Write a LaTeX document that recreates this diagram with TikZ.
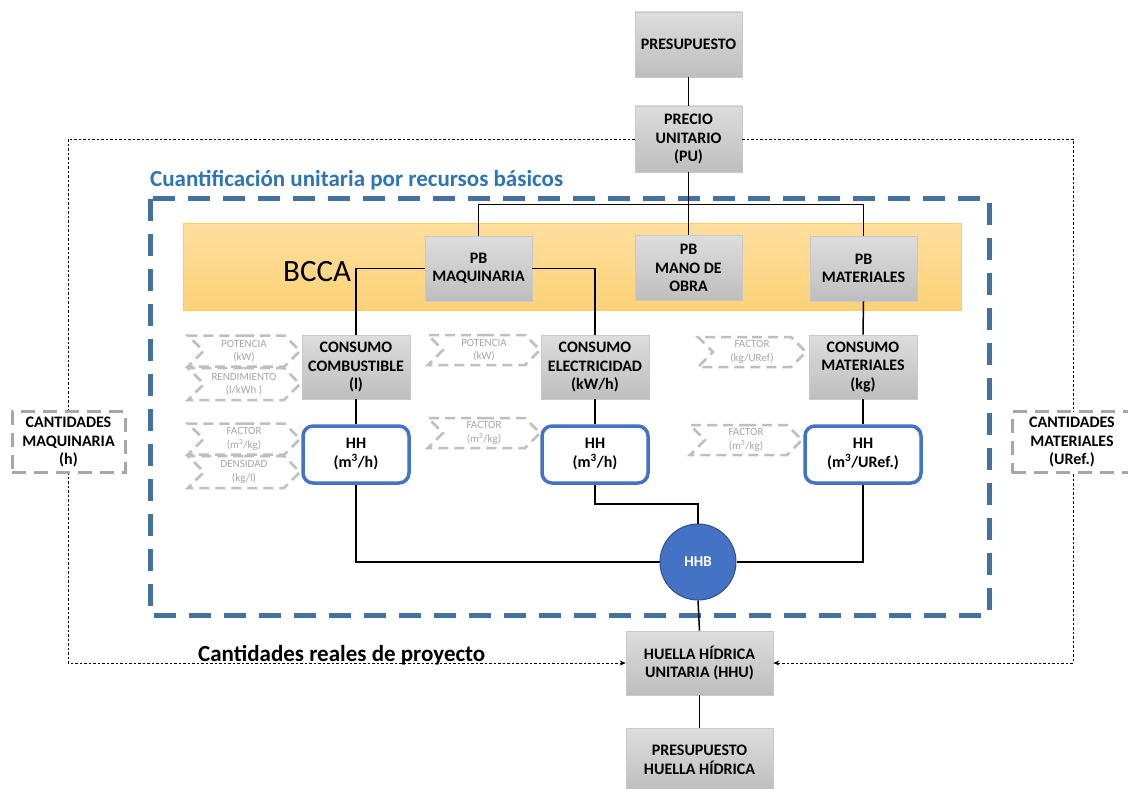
\documentclass[tikz,border=0pt]{standalone}
\usepackage{fontspec}
\setmainfont{Carlito}
\usetikzlibrary{arrows.meta,shapes.symbols}

\definecolor{boxtop}{RGB}{221,221,221}
\definecolor{boxbot}{RGB}{190,190,190}
\definecolor{boxline}{RGB}{200,200,200}
\definecolor{hhblue}{RGB}{68,114,196}
\definecolor{hhbline}{RGB}{47,82,143}
\definecolor{zoneblue}{RGB}{67,113,160}
\definecolor{titleblue}{RGB}{46,117,182}
\definecolor{bandtop}{RGB}{254,222,158}
\definecolor{bandbot}{RGB}{253,211,120}
\definecolor{bandline}{RGB}{255,205,95}
\definecolor{chevline}{RGB}{191,191,191}
\definecolor{chevtext}{RGB}{166,166,166}
\definecolor{qtyline}{RGB}{166,166,166}

\tikzset{
  graybox/.style={draw=boxline, line width=0.6pt, top color=boxtop, bottom color=boxbot,
    minimum width=107pt, minimum height=65pt, inner sep=2pt, align=center,
    font=\fontsize{16}{18.5}\selectfont\bfseries},
  hhbox/.style={draw=hhblue, line width=3.5pt, rounded corners=10pt, fill=white,
    minimum height=57pt, inner sep=2pt, align=center,
    font=\fontsize{16}{19}\selectfont\bfseries},
  qtybox/.style={draw=qtyline, line width=3pt, dash pattern=on 14pt off 8pt, fill=white,
    minimum height=61pt, align=center, font=\fontsize{16}{18.5}\selectfont\bfseries},
  chev/.style={shape=signal, signal from=west, signal to=east, signal pointer angle=90,
    draw=chevline, line width=2.5pt, dash pattern=on 10pt off 6pt, text=chevtext,
    inner sep=1pt, align=center, font=\fontsize{11}{13.5}\selectfont},
  link/.style={draw=black, line width=1.5pt},
  outer/.style={draw=black, line width=0.8pt, dash pattern=on 2.5pt off 2pt},
  tip/.style={-{Stealth[length=6pt,width=5pt]}},
}

\begin{document}
\begin{tikzpicture}[x=1pt,y=-1pt]
\useasboundingbox (0,0) rectangle (1128,789);
\fill[white] (0,0) rectangle (1128,789);

% project quantities frame (dotted) feeding the unit water footprint
\node[graybox] (pres) at (688.5,44.5) {PRESUPUESTO};
\node[graybox, minimum height=66pt] (pu) at (688.5,139) {PRECIO\\UNITARIO\\(PU)};
\node[graybox, minimum width=147pt, minimum height=64pt] (hhu) at (699.5,663) {HUELLA HÍDRICA\\UNITARIA (HHU)};
\node[graybox, minimum width=147pt, minimum height=64pt] (phh) at (699.5,760) {PRESUPUESTO\\HUELLA HÍDRICA};

\coordinate (otl) at (68,139);
\coordinate (otr) at (1073,139);
\draw[outer,tip] (pu.west) -- (otl) |- (hhu.west);
\draw[outer,tip] (pu.east) -- (otr) |- (hhu.east);

\node[qtybox, minimum width=113pt] (cmaq) at (68.5,442) {CANTIDADES\\MAQUINARIA\\(h)};
\node[qtybox, minimum width=120pt] (cmatq) at (1072,442) {CANTIDADES\\MATERIALES\\(URef.)};

\node[font=\fontsize{23}{27}\selectfont\bfseries, anchor=base west, inner sep=0pt] (real) at (198,661) {Cantidades reales de proyecto};

% unit quantification zone
\node[font=\fontsize{23}{27}\selectfont\bfseries, text=titleblue, anchor=base west, inner sep=0pt] (title) at (150,187) {Cuantificación unitaria por recursos básicos};
\draw[draw=zoneblue, line width=5pt, dash pattern=on 22pt off 13pt] (150,199) rectangle (989,615);

% BCCA band
\draw[draw=bandline, line width=0.8pt, top color=bandtop, bottom color=bandbot] (183,223) rectangle (961,310);
\node[font=\fontsize{31}{36}\selectfont, anchor=base west, inner sep=0pt] (bcca) at (283,281) {BCCA};

% connectors
\draw[link] (pres.south) -- (pu.north);
\draw[link] (pu.south) -- (688.5,205);

\node[graybox] (pbmaq) at (478.5,268.5) {PB\\MAQUINARIA};
\node[graybox] (pbmo) at (688.5,268) {PB\\MANO DE\\OBRA};
\node[graybox] (pbmat) at (863.5,268.5) {PB\\MATERIALES};

\node[graybox, minimum width=108pt, minimum height=64pt] (ccomb) at (356,367) {CONSUMO\\COMBUSTIBLE\\(l)};
\node[graybox, minimum width=108pt, minimum height=64pt] (celec) at (595,367) {CONSUMO\\ELECTRICIDAD\\(kW/h)};
\node[graybox, minimum width=108pt, minimum height=64pt] (cmat) at (863,367) {CONSUMO\\MATERIALES\\(kg)};

\node[hhbox, minimum width=106pt] (hh1) at (356,454.5) {HH\\(m\textsuperscript{3}/h)};
\node[hhbox, minimum width=106pt] (hh2) at (595,454.5) {HH\\(m\textsuperscript{3}/h)};
\node[hhbox, minimum width=116pt] (hh3) at (863,454.5) {HH\\(m\textsuperscript{3}/URef.)};

\node[circle, fill=hhblue, draw=hhbline, line width=1pt, minimum size=76pt, inner sep=0pt,
  text=white, font=\fontsize{15}{18}\selectfont\bfseries] (hhb) at (698,562) {HHB};

\draw[link] (pbmaq.north) -- ++(0,-31) -| (pbmat.north);
\draw[link] (pu.south) -- (pbmo.north);
\draw[link] (pbmaq.west) -| (ccomb.north);
\draw[link] (pbmaq.east) -| (celec.north);
\draw[link] (pbmat.south) -- (cmat.north);
\draw[link] (ccomb.south) -- (hh1.north);
\draw[link] (celec.south) -- (hh2.north);
\draw[link] (cmat.south) -- (hh3.north);
\draw[link] (hh1.south) |- (hhb.west);
\draw[link] (hh3.south) |- (hhb.east);
\draw[link] (hh2.south) -- ++(0,19) -| (hhb.north);
\draw[link] (hhb.south) -- (hhu.north);
\draw[link] (hhu.south) -- (phh.north);

% conversion factors
\node[chev, minimum width=112pt, minimum height=31pt] (potc) at (244,351) {POTENCIA\\(kW)};
\node[chev, minimum width=112pt, minimum height=32pt] (rend) at (244,384) {RENDIMIENTO\\(l/kWh )};
\node[chev, minimum width=112pt, minimum height=31pt] (facc) at (244,439) {FACTOR\\(m\textsuperscript{3}/kg)};
\node[chev, minimum width=112pt, minimum height=32pt] (dens) at (244,472) {DENSIDAD\\(kg/l)};
\node[chev, minimum width=112pt, minimum height=30pt] (pote) at (484,350) {POTENCIA\\(kW)};
\node[chev, minimum width=112pt, minimum height=30pt] (face) at (484,433) {FACTOR\\(m\textsuperscript{3}/kg)};
\node[chev, minimum width=108pt, minimum height=30pt] (facm) at (752,352) {FACTOR\\(kg/URef)};
\node[chev, minimum width=112pt, minimum height=30pt] (fach) at (746,440) {FACTOR\\(m\textsuperscript{3}/kg)};
\end{tikzpicture}
\end{document}
